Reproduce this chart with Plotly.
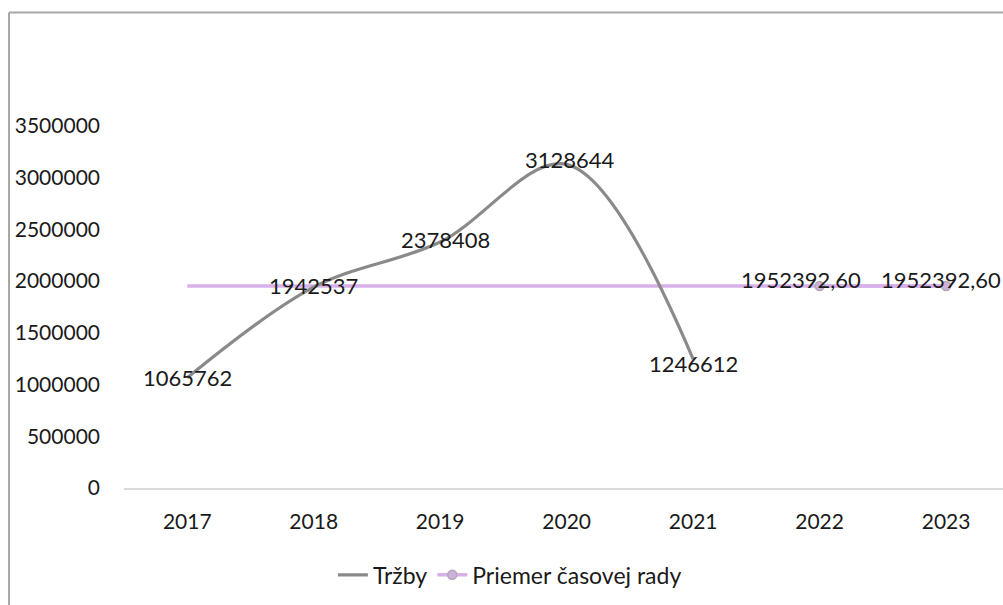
import plotly.graph_objects as go

years = ["2017", "2018", "2019", "2020", "2021", "2022", "2023"]
trzby_years = ["2017", "2018", "2019", "2020", "2021"]
trzby = [1065762, 1942537, 2378408, 3128644, 1246612]
priemer = [1952392.60] * 7
priemer_label_years = ["2022", "2023"]
priemer_label_vals = [1952392.60, 1952392.60]
y_ticks = [0, 500000, 1000000, 1500000, 2000000, 2500000, 3000000, 3500000]

FONT = "Lato"
GRAY = "#8a8a8a"
PURPLE = "#d7b0ea"

fig = go.Figure()

# average line across all years (no legend)
fig.add_trace(go.Scatter(
    x=years, y=priemer, mode="lines",
    line=dict(color=PURPLE, width=3.5),
    showlegend=False, hoverinfo="skip",
))

fig.add_trace(go.Scatter(
    x=trzby_years, y=trzby, mode="lines", name="Tržby",
    line=dict(color=GRAY, width=3.2, shape="spline", smoothing=1.0),
))

fig.add_trace(go.Scatter(
    x=priemer_label_years, y=priemer_label_vals, mode="lines+markers",
    name="Priemer časovej rady",
    line=dict(color=PURPLE, width=3.5),
    marker=dict(size=9, color="#cdb0dc", line=dict(color="#b0a8b4", width=1.5)),
))

# data labels (category axis: annotation x given as category serial number)
shifts_trzby = [(0, 0), (0, 2), (5, 3), (3, 5), (0, -4)]
for xv, yv, (dx, dy) in zip(trzby_years, trzby, shifts_trzby):
    fig.add_annotation(x=years.index(xv), y=yv, text=f"{yv}", showarrow=False,
                       xshift=dx, yshift=dy,
                       font=dict(family=FONT, size=22, color="#1a1a1a"))

shifts_avg = [(-19, 7), (-5, 7)]
for xv, yv, (dx, dy) in zip(priemer_label_years, priemer_label_vals, shifts_avg):
    fig.add_annotation(x=years.index(xv), y=yv, text=f"{yv:.2f}".replace(".", ","),
                       showarrow=False, xshift=dx, yshift=dy,
                       font=dict(family=FONT, size=22, color="#1a1a1a"))

# chart-area border (top and left edges visible)
fig.add_shape(type="line", xref="paper", yref="paper",
              x0=-0.1308, x1=1.2, y0=1.3135, y1=1.3135,
              line=dict(color="#a6a6a6", width=2))
fig.add_shape(type="line", xref="paper", yref="paper",
              x0=-0.1308, x1=-0.1308, y0=1.3135, y1=-0.5,
              line=dict(color="#a6a6a6", width=2))

fig.update_layout(
    width=1003, height=605,
    margin=dict(l=124, r=0, t=126, b=117),
    paper_bgcolor="white", plot_bgcolor="white",
    font=dict(family=FONT, size=21, color="#1a1a1a"),
    showlegend=True,
    legend=dict(orientation="h", x=0.439, xanchor="center", y=-0.24,
                yanchor="middle", font=dict(family=FONT, size=23, color="#1a1a1a"),
                bgcolor="rgba(0,0,0,0)"),
    xaxis=dict(type="category", categoryorder="array", categoryarray=years,
               range=[-0.5, 6.45], showgrid=False, zeroline=False,
               showline=True, linecolor="#d9d9d9", linewidth=2,
               ticks="", ticklabelstandoff=14,
               tickfont=dict(family=FONT, size=21, color="#1a1a1a")),
    yaxis=dict(range=[0, 3500000], tickvals=y_ticks,
               ticktext=[str(v) for v in y_ticks],
               showgrid=False, zeroline=False, showline=False,
               ticks="", ticklabelstandoff=23,
               tickfont=dict(family=FONT, size=21, color="#1a1a1a")),
)

fig.write_html("out.html")
